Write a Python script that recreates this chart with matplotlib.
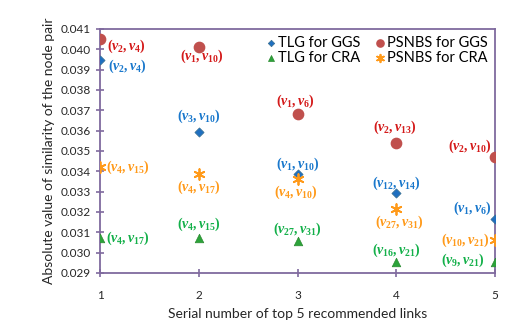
import matplotlib
matplotlib.use("Agg")
import matplotlib.pyplot as plt

# top-5 recommended links, similarity scores per method/dataset
rank = [1, 2, 3, 4, 5]
tlg_ggs = [0.03948, 0.03595, 0.03387, 0.03292, 0.03165]
psnbs_ggs = [0.04049, 0.04013, 0.03680, 0.03538, 0.03472]
tlg_cra = [0.03070, 0.03070, 0.03059, 0.02955, 0.02955]
psnbs_cra = [0.03423, 0.03387, 0.03360, 0.03213, 0.03062]

tlg_ggs_pairs = ["(v_2,v_4)", "(v_3,v_{10})", "(v_1,v_{10})", "(v_{12},v_{14})", "(v_1,v_6)"]
psnbs_ggs_pairs = ["(v_2,v_4)", "(v_1,v_{10})", "(v_1,v_6)", "(v_2,v_{13})", "(v_2,v_{10})"]
tlg_cra_pairs = ["(v_4,v_{17})", "(v_4,v_{15})", "(v_{27},v_{31})", "(v_{16},v_{21})", "(v_9,v_{21})"]
psnbs_cra_pairs = ["(v_4,v_{15})", "(v_4,v_{17})", "(v_4,v_{10})", "(v_{27},v_{31})", "(v_{10},v_{21})"]

plt.rcParams.update({
    "font.family": ["Lato", "DejaVu Sans"],
    "mathtext.fontset": "custom",
    "mathtext.it": "Liberation Serif:italic:bold",
    "mathtext.rm": "Liberation Serif:bold",
    "mathtext.bf": "Liberation Serif:bold",
})
AXC = "#7f6a9e"

fig = plt.figure(figsize=(5.25, 3.28), dpi=100)
ax = fig.add_axes([0.1905, 0.1677, 0.7525, 0.7439])

ax.scatter(rank, tlg_ggs, marker="D", s=22, color="#1f6fc0", edgecolor="#3a6f8f",
           linewidth=0.5, zorder=3, label="TLG for GGS")
ax.scatter(rank, tlg_cra, marker="^", s=38, color="#2ca33a", edgecolor="#2a8a30",
           linewidth=0.5, zorder=3, label="TLG for CRA")
ax.scatter(rank, psnbs_ggs, marker="o", s=55, color="#c0504d", zorder=3,
           label="PSNBS for GGS")
ax.scatter(rank, psnbs_cra, marker=(6, 2, 0), s=60, color="#ff9a1a", linewidth=1.3,
           zorder=3, label="PSNBS for CRA")

# label offsets in pixels (dx, dy, horizontal alignment)
lab_specs = [
    (tlg_ggs, tlg_ggs_pairs, "#1a78cc",
     [(8, -6, "left"), (0, 15, "center"), (0, 10, "center"), (0, 10, "center"), (-3, 11, "right")]),
    (psnbs_ggs, psnbs_ggs_pairs, "#d41a1a",
     [(7, -7, "left"), (3, -10, "center"), (-2, 13, "center"), (-1, 16, "center"), (-3, 10, "right")]),
    (tlg_cra, tlg_cra_pairs, "#14b04a",
     [(6, 0, "left"), (0, 14, "center"), (0, 11, "center"), (0, 11, "center"), (-10, 1, "right")]),
    (psnbs_cra, psnbs_cra_pairs, "#ff9a1a",
     [(6, -1, "left"), (0, -13, "center"), (-2, -13, "center"), (3, -13, "center"), (-5, 0, "right")]),
]
for vals, pairs, col, offs in lab_specs:
    for x, y, p, (dx, dy, ha) in zip(rank, vals, pairs, offs):
        ax.annotate(f"${p}$", (x, y), xytext=(dx, dy), textcoords="offset pixels",
                    ha=ha, va="center", fontsize=10, color=col, zorder=4)

ax.set_xlim(1, 5)
ax.set_ylim(0.029, 0.041)
ax.set_xticks(rank)
ax.set_yticks([0.029 + 0.001 * i for i in range(13)])
ax.set_yticklabels([f"{0.029 + 0.001 * i:.3f}" for i in range(13)])
for s in ax.spines.values():
    s.set_color(AXC)
    s.set_linewidth(1.3)
ax.tick_params(axis="both", direction="inout", length=6, width=1.2, color=AXC,
               labelsize=8.5, labelcolor="#262626")
ax.tick_params(axis="x", pad=9)
ax.set_xlabel("Serial number of top 5 recommended links", fontsize=10, color="#262626",
              labelpad=5)
ax.set_ylabel("Absolute value of similarity of the node pair", fontsize=10, color="#262626")

ax.legend(loc="upper right", bbox_to_anchor=(1.0, 1.0), ncol=2, frameon=False,
          fontsize=10.5, handletextpad=0.0, columnspacing=0.8, labelspacing=0.05,
          handlelength=1.0, borderaxespad=0.1, markerscale=0.7)

fig.savefig("out.png", dpi=100)
